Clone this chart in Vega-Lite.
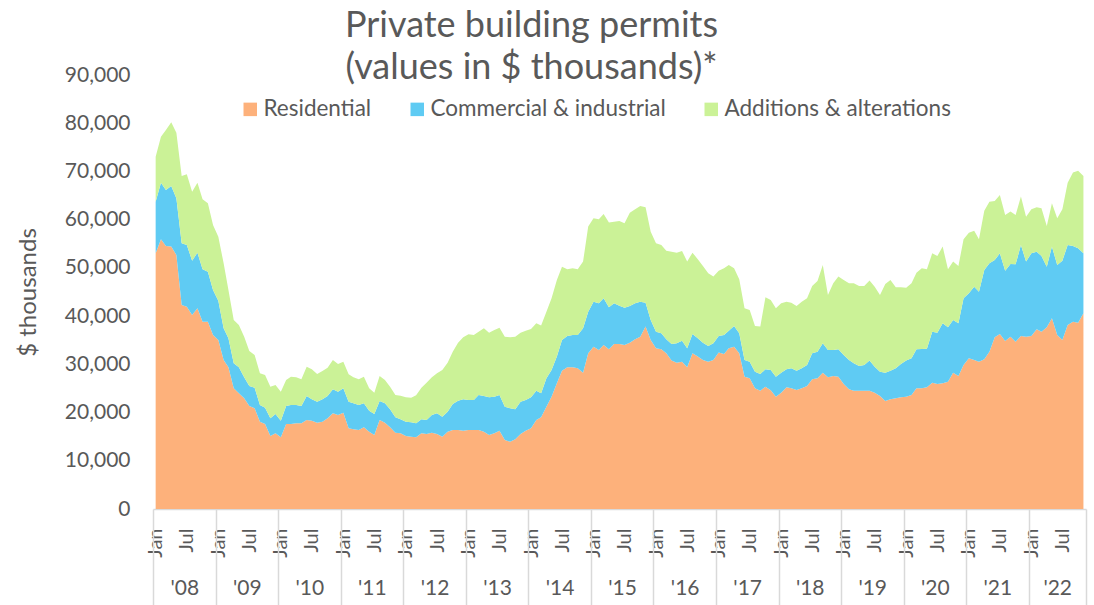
{
  "$schema": "https://vega.github.io/schema/vega-lite/v6.json",
  "width": 933,
  "height": 434,
  "autosize": {"type": "none"},
  "padding": {"left": 153, "top": 75, "right": 8, "bottom": 96},
  "background": "white",
  "config": {
    "font": "Lato",
    "view": {"stroke": null},
    "axis": {"labelColor": "#595959", "titleColor": "#595959"}
  },
  "title": {
    "text": ["Private building permits", "(values in $ thousands)*"],
    "fontSize": 36,
    "fontWeight": "normal",
    "color": "#595959",
    "anchor": "middle",
    "frame": "group",
    "dx": -88,
    "dy": 23,
    "lineHeight": 42,
    "offset": 0
  },
  "data": {
    "values": [
      {"date": "2008-01-01", "residential": 53030, "commercial": 10710, "additions": 9330},
      {"date": "2008-02-01", "residential": 55930, "commercial": 11750, "additions": 9540},
      {"date": "2008-03-01", "residential": 54550, "commercial": 11610, "additions": 12440},
      {"date": "2008-04-01", "residential": 54410, "commercial": 12580, "additions": 13210},
      {"date": "2008-05-01", "residential": 52680, "commercial": 11750, "additions": 13620},
      {"date": "2008-06-01", "residential": 42310, "commercial": 12790, "additions": 13960},
      {"date": "2008-07-01", "residential": 41960, "commercial": 12790, "additions": 14660},
      {"date": "2008-08-01", "residential": 40240, "commercial": 11260, "additions": 14310},
      {"date": "2008-09-01", "residential": 41620, "commercial": 11540, "additions": 14520},
      {"date": "2008-10-01", "residential": 38850, "commercial": 10860, "additions": 14520},
      {"date": "2008-11-01", "residential": 38850, "commercial": 10370, "additions": 14180},
      {"date": "2008-12-01", "residential": 36090, "commercial": 9330, "additions": 13480},
      {"date": "2009-01-01", "residential": 35050, "commercial": 8160, "additions": 13270},
      {"date": "2009-02-01", "residential": 30900, "commercial": 6570, "additions": 13480},
      {"date": "2009-03-01", "residential": 29380, "commercial": 6020, "additions": 10020},
      {"date": "2009-04-01", "residential": 25020, "commercial": 5190, "additions": 8990},
      {"date": "2009-05-01", "residential": 23990, "commercial": 5390, "additions": 8780},
      {"date": "2009-06-01", "residential": 22950, "commercial": 4360, "additions": 8430},
      {"date": "2009-07-01", "residential": 21360, "commercial": 4150, "additions": 7260},
      {"date": "2009-08-01", "residential": 20880, "commercial": 4280, "additions": 6780},
      {"date": "2009-09-01", "residential": 18110, "commercial": 3460, "additions": 6570},
      {"date": "2009-10-01", "residential": 17630, "commercial": 3390, "additions": 6770},
      {"date": "2009-11-01", "residential": 15140, "commercial": 3660, "additions": 6570},
      {"date": "2009-12-01", "residential": 15690, "commercial": 4010, "additions": 6020},
      {"date": "2010-01-01", "residential": 14860, "commercial": 3460, "additions": 6010},
      {"date": "2010-02-01", "residential": 17630, "commercial": 3730, "additions": 5390},
      {"date": "2010-03-01", "residential": 17630, "commercial": 3940, "additions": 5880},
      {"date": "2010-04-01", "residential": 17770, "commercial": 3800, "additions": 5740},
      {"date": "2010-05-01", "residential": 17770, "commercial": 3590, "additions": 5530},
      {"date": "2010-06-01", "residential": 18460, "commercial": 4980, "additions": 6080},
      {"date": "2010-07-01", "residential": 18320, "commercial": 4420, "additions": 6230},
      {"date": "2010-08-01", "residential": 17910, "commercial": 4350, "additions": 5740},
      {"date": "2010-09-01", "residential": 18110, "commercial": 4630, "additions": 5880},
      {"date": "2010-10-01", "residential": 18800, "commercial": 4640, "additions": 5870},
      {"date": "2010-11-01", "residential": 19840, "commercial": 4980, "additions": 6080},
      {"date": "2010-12-01", "residential": 19500, "commercial": 4830, "additions": 5740},
      {"date": "2011-01-01", "residential": 19980, "commercial": 5040, "additions": 5540},
      {"date": "2011-02-01", "residential": 16730, "commercial": 5530, "additions": 5670},
      {"date": "2011-03-01", "residential": 16530, "commercial": 5380, "additions": 5400},
      {"date": "2011-04-01", "residential": 16380, "commercial": 5190, "additions": 5320},
      {"date": "2011-05-01", "residential": 16940, "commercial": 4970, "additions": 5540},
      {"date": "2011-06-01", "residential": 16040, "commercial": 4360, "additions": 4620},
      {"date": "2011-07-01", "residential": 15350, "commercial": 4350, "additions": 4430},
      {"date": "2011-08-01", "residential": 18460, "commercial": 3940, "additions": 5180},
      {"date": "2011-09-01", "residential": 17910, "commercial": 4000, "additions": 4840},
      {"date": "2011-10-01", "residential": 16940, "commercial": 3730, "additions": 4700},
      {"date": "2011-11-01", "residential": 15830, "commercial": 3180, "additions": 4630},
      {"date": "2011-12-01", "residential": 15690, "commercial": 2910, "additions": 4910},
      {"date": "2012-01-01", "residential": 15140, "commercial": 2970, "additions": 5050},
      {"date": "2012-02-01", "residential": 15000, "commercial": 2980, "additions": 5110},
      {"date": "2012-03-01", "residential": 14860, "commercial": 2910, "additions": 5810},
      {"date": "2012-04-01", "residential": 15690, "commercial": 2910, "additions": 6560},
      {"date": "2012-05-01", "residential": 15560, "commercial": 2900, "additions": 7740},
      {"date": "2012-06-01", "residential": 15830, "commercial": 3670, "additions": 7810},
      {"date": "2012-07-01", "residential": 15560, "commercial": 4280, "additions": 8300},
      {"date": "2012-08-01", "residential": 15000, "commercial": 4150, "additions": 9680},
      {"date": "2012-09-01", "residential": 16040, "commercial": 4150, "additions": 10160},
      {"date": "2012-10-01", "residential": 16380, "commercial": 5400, "additions": 10850},
      {"date": "2012-11-01", "residential": 16380, "commercial": 6090, "additions": 12030},
      {"date": "2012-12-01", "residential": 16250, "commercial": 6500, "additions": 12860},
      {"date": "2013-01-01", "residential": 16380, "commercial": 6230, "additions": 13620},
      {"date": "2013-02-01", "residential": 16380, "commercial": 6230, "additions": 13480},
      {"date": "2013-03-01", "residential": 16380, "commercial": 7260, "additions": 13140},
      {"date": "2013-04-01", "residential": 16040, "commercial": 7400, "additions": 14030},
      {"date": "2013-05-01", "residential": 15350, "commercial": 7810, "additions": 13410},
      {"date": "2013-06-01", "residential": 15690, "commercial": 7610, "additions": 13820},
      {"date": "2013-07-01", "residential": 16250, "commercial": 7390, "additions": 13970},
      {"date": "2013-08-01", "residential": 14310, "commercial": 6910, "additions": 14520},
      {"date": "2013-09-01", "residential": 13960, "commercial": 6920, "additions": 14730},
      {"date": "2013-10-01", "residential": 14450, "commercial": 6220, "additions": 15070},
      {"date": "2013-11-01", "residential": 15560, "commercial": 6700, "additions": 14310},
      {"date": "2013-12-01", "residential": 16250, "commercial": 6360, "additions": 14380},
      {"date": "2014-01-01", "residential": 16730, "commercial": 6430, "additions": 14170},
      {"date": "2014-02-01", "residential": 18460, "commercial": 6080, "additions": 13970},
      {"date": "2014-03-01", "residential": 19010, "commercial": 4980, "additions": 14040},
      {"date": "2014-04-01", "residential": 21220, "commercial": 5880, "additions": 13830},
      {"date": "2014-05-01", "residential": 23300, "commercial": 5530, "additions": 14860},
      {"date": "2014-06-01", "residential": 26060, "commercial": 5540, "additions": 15890},
      {"date": "2014-07-01", "residential": 28690, "commercial": 6360, "additions": 15210},
      {"date": "2014-08-01", "residential": 29380, "commercial": 6500, "additions": 13830},
      {"date": "2014-09-01", "residential": 29380, "commercial": 6710, "additions": 13820},
      {"date": "2014-10-01", "residential": 29180, "commercial": 6910, "additions": 13620},
      {"date": "2014-11-01", "residential": 28280, "commercial": 9190, "additions": 13830},
      {"date": "2014-12-01", "residential": 32280, "commercial": 8650, "additions": 17630},
      {"date": "2015-01-01", "residential": 33670, "commercial": 9330, "additions": 17280},
      {"date": "2015-02-01", "residential": 32980, "commercial": 9670, "additions": 17420},
      {"date": "2015-03-01", "residential": 34010, "commercial": 9680, "additions": 17490},
      {"date": "2015-04-01", "residential": 33110, "commercial": 8710, "additions": 17570},
      {"date": "2015-05-01", "residential": 34220, "commercial": 8430, "additions": 16940},
      {"date": "2015-06-01", "residential": 34220, "commercial": 7950, "additions": 17560},
      {"date": "2015-07-01", "residential": 34010, "commercial": 7740, "additions": 17500},
      {"date": "2015-08-01", "residential": 34500, "commercial": 7600, "additions": 19360},
      {"date": "2015-09-01", "residential": 35190, "commercial": 7460, "additions": 19500},
      {"date": "2015-10-01", "residential": 35740, "commercial": 7260, "additions": 19840},
      {"date": "2015-11-01", "residential": 37820, "commercial": 4970, "additions": 19770},
      {"date": "2015-12-01", "residential": 35050, "commercial": 4150, "additions": 18320},
      {"date": "2016-01-01", "residential": 33320, "commercial": 3460, "additions": 18320},
      {"date": "2016-02-01", "residential": 33110, "commercial": 3320, "additions": 18320},
      {"date": "2016-03-01", "residential": 32280, "commercial": 2910, "additions": 18390},
      {"date": "2016-04-01", "residential": 30770, "commercial": 3450, "additions": 19150},
      {"date": "2016-05-01", "residential": 30350, "commercial": 4010, "additions": 18800},
      {"date": "2016-06-01", "residential": 30560, "commercial": 4350, "additions": 18600},
      {"date": "2016-07-01", "residential": 29380, "commercial": 3940, "additions": 17980},
      {"date": "2016-08-01", "residential": 32280, "commercial": 4020, "additions": 16860},
      {"date": "2016-09-01", "residential": 31600, "commercial": 3800, "additions": 16380},
      {"date": "2016-10-01", "residential": 30900, "commercial": 3600, "additions": 15900},
      {"date": "2016-11-01", "residential": 30560, "commercial": 3250, "additions": 15070},
      {"date": "2016-12-01", "residential": 30900, "commercial": 3460, "additions": 13830},
      {"date": "2017-01-01", "residential": 32430, "commercial": 3450, "additions": 13550},
      {"date": "2017-02-01", "residential": 32150, "commercial": 3940, "additions": 13820},
      {"date": "2017-03-01", "residential": 33320, "commercial": 3670, "additions": 13620},
      {"date": "2017-04-01", "residential": 33670, "commercial": 4280, "additions": 11960},
      {"date": "2017-05-01", "residential": 32280, "commercial": 4150, "additions": 11200},
      {"date": "2017-06-01", "residential": 27450, "commercial": 3450, "additions": 10720},
      {"date": "2017-07-01", "residential": 27100, "commercial": 3460, "additions": 10710},
      {"date": "2017-08-01", "residential": 25020, "commercial": 3460, "additions": 9470},
      {"date": "2017-09-01", "residential": 24540, "commercial": 3460, "additions": 9820},
      {"date": "2017-10-01", "residential": 25370, "commercial": 3600, "additions": 14930},
      {"date": "2017-11-01", "residential": 24600, "commercial": 4200, "additions": 14550},
      {"date": "2017-12-01", "residential": 23300, "commercial": 4150, "additions": 14170},
      {"date": "2018-01-01", "residential": 24130, "commercial": 4150, "additions": 14370},
      {"date": "2018-02-01", "residential": 25230, "commercial": 3740, "additions": 14030},
      {"date": "2018-03-01", "residential": 25020, "commercial": 4160, "additions": 13610},
      {"date": "2018-04-01", "residential": 24680, "commercial": 4010, "additions": 13410},
      {"date": "2018-05-01", "residential": 25020, "commercial": 4160, "additions": 13820},
      {"date": "2018-06-01", "residential": 25510, "commercial": 4360, "additions": 13820},
      {"date": "2018-07-01", "residential": 26890, "commercial": 5390, "additions": 13970},
      {"date": "2018-08-01", "residential": 27100, "commercial": 5530, "additions": 14660},
      {"date": "2018-09-01", "residential": 28280, "commercial": 6080, "additions": 16250},
      {"date": "2018-10-01", "residential": 27310, "commercial": 5670, "additions": 11400},
      {"date": "2018-11-01", "residential": 27580, "commercial": 5400, "additions": 13830},
      {"date": "2018-12-01", "residential": 27450, "commercial": 5660, "additions": 15080},
      {"date": "2019-01-01", "residential": 25930, "commercial": 6010, "additions": 15550},
      {"date": "2019-02-01", "residential": 24820, "commercial": 6080, "additions": 15910},
      {"date": "2019-03-01", "residential": 24540, "commercial": 5670, "additions": 16600},
      {"date": "2019-04-01", "residential": 24540, "commercial": 5120, "additions": 16590},
      {"date": "2019-05-01", "residential": 24540, "commercial": 5330, "additions": 16380},
      {"date": "2019-06-01", "residential": 24540, "commercial": 6230, "additions": 16590},
      {"date": "2019-07-01", "residential": 24130, "commercial": 5390, "additions": 16590},
      {"date": "2019-08-01", "residential": 23440, "commercial": 5040, "additions": 15900},
      {"date": "2019-09-01", "residential": 22400, "commercial": 5880, "additions": 18390},
      {"date": "2019-10-01", "residential": 22750, "commercial": 5940, "additions": 18800},
      {"date": "2019-11-01", "residential": 22950, "commercial": 6230, "additions": 16790},
      {"date": "2019-12-01", "residential": 23160, "commercial": 6910, "additions": 15900},
      {"date": "2020-01-01", "residential": 23300, "commercial": 7470, "additions": 15130},
      {"date": "2020-02-01", "residential": 23640, "commercial": 7610, "additions": 15560},
      {"date": "2020-03-01", "residential": 25020, "commercial": 8090, "additions": 15900},
      {"date": "2020-04-01", "residential": 25020, "commercial": 8160, "additions": 16730},
      {"date": "2020-05-01", "residential": 25230, "commercial": 8020, "additions": 16460},
      {"date": "2020-06-01", "residential": 26200, "commercial": 10580, "additions": 16250},
      {"date": "2020-07-01", "residential": 25930, "commercial": 10640, "additions": 15900},
      {"date": "2020-08-01", "residential": 26060, "commercial": 12450, "additions": 15900},
      {"date": "2020-09-01", "residential": 26410, "commercial": 11270, "additions": 12030},
      {"date": "2020-10-01", "residential": 28280, "commercial": 10920, "additions": 12100},
      {"date": "2020-11-01", "residential": 27580, "commercial": 10930, "additions": 11890},
      {"date": "2020-12-01", "residential": 29870, "commercial": 13820, "additions": 12240},
      {"date": "2021-01-01", "residential": 31250, "commercial": 13480, "additions": 12580},
      {"date": "2021-02-01", "residential": 30900, "commercial": 15210, "additions": 11610},
      {"date": "2021-03-01", "residential": 30560, "commercial": 14510, "additions": 10860},
      {"date": "2021-04-01", "residential": 31040, "commercial": 18530, "additions": 12300},
      {"date": "2021-05-01", "residential": 32630, "commercial": 18320, "additions": 12790},
      {"date": "2021-06-01", "residential": 35610, "commercial": 16030, "additions": 12240},
      {"date": "2021-07-01", "residential": 36300, "commercial": 16730, "additions": 12090},
      {"date": "2021-08-01", "residential": 34840, "commercial": 14590, "additions": 11550},
      {"date": "2021-09-01", "residential": 35740, "commercial": 15070, "additions": 10860},
      {"date": "2021-10-01", "residential": 34700, "commercial": 16040, "additions": 10240},
      {"date": "2021-11-01", "residential": 35880, "commercial": 18870, "additions": 10030},
      {"date": "2021-12-01", "residential": 35740, "commercial": 15560, "additions": 9330},
      {"date": "2022-01-01", "residential": 35880, "commercial": 17150, "additions": 9120},
      {"date": "2022-02-01", "residential": 37270, "commercial": 16100, "additions": 9190},
      {"date": "2022-03-01", "residential": 36780, "commercial": 15690, "additions": 9890},
      {"date": "2022-04-01", "residential": 37680, "commercial": 12580, "additions": 8430},
      {"date": "2022-05-01", "residential": 39550, "commercial": 14860, "additions": 8990},
      {"date": "2022-06-01", "residential": 36090, "commercial": 14520, "additions": 9680},
      {"date": "2022-07-01", "residential": 35050, "commercial": 16450, "additions": 10650},
      {"date": "2022-08-01", "residential": 38160, "commercial": 16590, "additions": 12930},
      {"date": "2022-09-01", "residential": 38850, "commercial": 15700, "additions": 15210},
      {"date": "2022-10-01", "residential": 38640, "commercial": 15420, "additions": 16110},
      {"date": "2022-11-01", "residential": 40590, "commercial": 12440, "additions": 16030}
    ]
  },
  "transform": [
    {"fold": ["residential", "commercial", "additions"], "as": ["series", "value"]}
  ],
  "layer": [
    {
      "mark": {"type": "area", "opacity": 1, "interpolate": "linear"},
      "encoding": {
        "x": {
          "field": "date",
          "type": "temporal",
          "scale": {
            "type": "utc",
            "domain": [
              {"year": 2007, "month": 12, "date": 16, "hours": 12, "utc": true},
              {"year": 2022, "month": 11, "date": 16, "utc": true}
            ]
          },
          "axis": {
            "orient": "bottom",
            "values": [
              {"year": 2008, "month": 1, "date": 1, "utc": true}, {"year": 2008, "month": 7, "date": 1, "utc": true},
              {"year": 2009, "month": 1, "date": 1, "utc": true}, {"year": 2009, "month": 7, "date": 1, "utc": true},
              {"year": 2010, "month": 1, "date": 1, "utc": true}, {"year": 2010, "month": 7, "date": 1, "utc": true},
              {"year": 2011, "month": 1, "date": 1, "utc": true}, {"year": 2011, "month": 7, "date": 1, "utc": true},
              {"year": 2012, "month": 1, "date": 1, "utc": true}, {"year": 2012, "month": 7, "date": 1, "utc": true},
              {"year": 2013, "month": 1, "date": 1, "utc": true}, {"year": 2013, "month": 7, "date": 1, "utc": true},
              {"year": 2014, "month": 1, "date": 1, "utc": true}, {"year": 2014, "month": 7, "date": 1, "utc": true},
              {"year": 2015, "month": 1, "date": 1, "utc": true}, {"year": 2015, "month": 7, "date": 1, "utc": true},
              {"year": 2016, "month": 1, "date": 1, "utc": true}, {"year": 2016, "month": 7, "date": 1, "utc": true},
              {"year": 2017, "month": 1, "date": 1, "utc": true}, {"year": 2017, "month": 7, "date": 1, "utc": true},
              {"year": 2018, "month": 1, "date": 1, "utc": true}, {"year": 2018, "month": 7, "date": 1, "utc": true},
              {"year": 2019, "month": 1, "date": 1, "utc": true}, {"year": 2019, "month": 7, "date": 1, "utc": true},
              {"year": 2020, "month": 1, "date": 1, "utc": true}, {"year": 2020, "month": 7, "date": 1, "utc": true},
              {"year": 2021, "month": 1, "date": 1, "utc": true}, {"year": 2021, "month": 7, "date": 1, "utc": true},
              {"year": 2022, "month": 1, "date": 1, "utc": true}, {"year": 2022, "month": 7, "date": 1, "utc": true}
            ],
            "labelExpr": "utcmonth(datum.value) == 0 ? 'Jan' : 'Jul'",
            "labelAngle": -90,
            "labelFontSize": 20,
            "labelColor": "#595959",
            "labelPadding": 19,
            "ticks": false,
            "domain": true,
            "domainColor": "#d9d9d9",
            "domainWidth": 1.5,
            "grid": false,
            "title": null,
            "labelOverlap": false,
            "labelFlush": false,
            "labelBound": false
          }
        },
        "y": {
          "field": "value",
          "type": "quantitative",
          "stack": "zero",
          "scale": {"domain": [0, 90000], "nice": false},
          "axis": {
            "values": [0, 10000, 20000, 30000, 40000, 50000, 60000, 70000, 80000, 90000],
            "format": ",.0f",
            "labelFontSize": 21,
            "labelColor": "#595959",
            "labelPadding": 23,
            "ticks": false,
            "domain": false,
            "grid": false,
            "labelOverlap": false,
            "title": "$ thousands",
            "titleFontSize": 24,
            "titleFontWeight": "normal",
            "titleColor": "#595959",
            "titlePadding": 24
          }
        },
        "color": {
          "field": "series",
          "type": "nominal",
          "scale": {
            "domain": ["residential", "commercial", "additions"],
            "range": ["#FDB17B", "#5FCBF3", "#CBF297"]
          },
          "legend": {
            "orient": "none",
            "legendX": 86,
            "legendY": 23,
            "direction": "horizontal",
            "title": null,
            "symbolType": "square",
            "symbolSize": 182,
            "symbolStrokeWidth": 0,
            "symbolOpacity": 1,
            "labelFontSize": 22.5,
            "labelColor": "#595959",
            "labelOffset": 2,
            "columnPadding": 34,
            "labelLimit": 400,
            "labelExpr": "datum.label == 'residential' ? 'Residential' : datum.label == 'commercial' ? 'Commercial & industrial' : 'Additions & alterations'"
          }
        },
        "order": {"field": "series", "sort": "descending"}
      }
    },
    {
      "mark": {"type": "rule", "opacity": 0},
      "encoding": {
        "x": {
          "field": "date",
          "type": "temporal",
          "axis": {
            "orient": "bottom",
            "values": [
              {"year": 2007, "month": 12, "date": 16, "hours": 12, "utc": true},
              {"year": 2008, "month": 12, "date": 16, "hours": 12, "utc": true},
              {"year": 2009, "month": 12, "date": 16, "hours": 12, "utc": true},
              {"year": 2010, "month": 12, "date": 16, "hours": 12, "utc": true},
              {"year": 2011, "month": 12, "date": 16, "hours": 12, "utc": true},
              {"year": 2012, "month": 12, "date": 16, "hours": 12, "utc": true},
              {"year": 2013, "month": 12, "date": 16, "hours": 12, "utc": true},
              {"year": 2014, "month": 12, "date": 16, "hours": 12, "utc": true},
              {"year": 2015, "month": 12, "date": 16, "hours": 12, "utc": true},
              {"year": 2016, "month": 12, "date": 16, "hours": 12, "utc": true},
              {"year": 2017, "month": 12, "date": 16, "hours": 12, "utc": true},
              {"year": 2018, "month": 12, "date": 16, "hours": 12, "utc": true},
              {"year": 2019, "month": 12, "date": 16, "hours": 12, "utc": true},
              {"year": 2020, "month": 12, "date": 16, "hours": 12, "utc": true},
              {"year": 2021, "month": 12, "date": 16, "hours": 12, "utc": true},
              {"year": 2022, "month": 11, "date": 16, "utc": true}
            ],
            "labels": false,
            "ticks": true,
            "tickSize": 96,
            "tickColor": "#d9d9d9",
            "tickWidth": 1.5,
            "domain": false,
            "grid": false,
            "title": null
          }
        }
      }
    },
    {
      "mark": {"type": "rule", "opacity": 0},
      "encoding": {
        "x": {
          "field": "date",
          "type": "temporal",
          "axis": {
            "orient": "bottom",
            "values": [
              {"year": 2008, "month": 6, "date": 16, "hours": 12, "utc": true},
              {"year": 2009, "month": 6, "date": 16, "hours": 12, "utc": true},
              {"year": 2010, "month": 6, "date": 16, "hours": 12, "utc": true},
              {"year": 2011, "month": 6, "date": 16, "hours": 12, "utc": true},
              {"year": 2012, "month": 6, "date": 16, "hours": 12, "utc": true},
              {"year": 2013, "month": 6, "date": 16, "hours": 12, "utc": true},
              {"year": 2014, "month": 6, "date": 16, "hours": 12, "utc": true},
              {"year": 2015, "month": 6, "date": 16, "hours": 12, "utc": true},
              {"year": 2016, "month": 6, "date": 16, "hours": 12, "utc": true},
              {"year": 2017, "month": 6, "date": 16, "hours": 12, "utc": true},
              {"year": 2018, "month": 6, "date": 16, "hours": 12, "utc": true},
              {"year": 2019, "month": 6, "date": 16, "hours": 12, "utc": true},
              {"year": 2020, "month": 6, "date": 16, "hours": 12, "utc": true},
              {"year": 2021, "month": 6, "date": 16, "hours": 12, "utc": true},
              {"year": 2022, "month": 6, "date": 1, "utc": true}
            ],
            "labelExpr": "utcFormat(datum.value, \"'%y\")",
            "ticks": false,
            "domain": false,
            "grid": false,
            "labelPadding": 68,
            "labelFontSize": 21,
            "labelColor": "#595959",
            "labelOverlap": false,
            "labelFlush": false,
            "labelBound": false,
            "title": null
          }
        }
      }
    }
  ],
  "resolve": {"axis": {"x": "independent"}}
}
